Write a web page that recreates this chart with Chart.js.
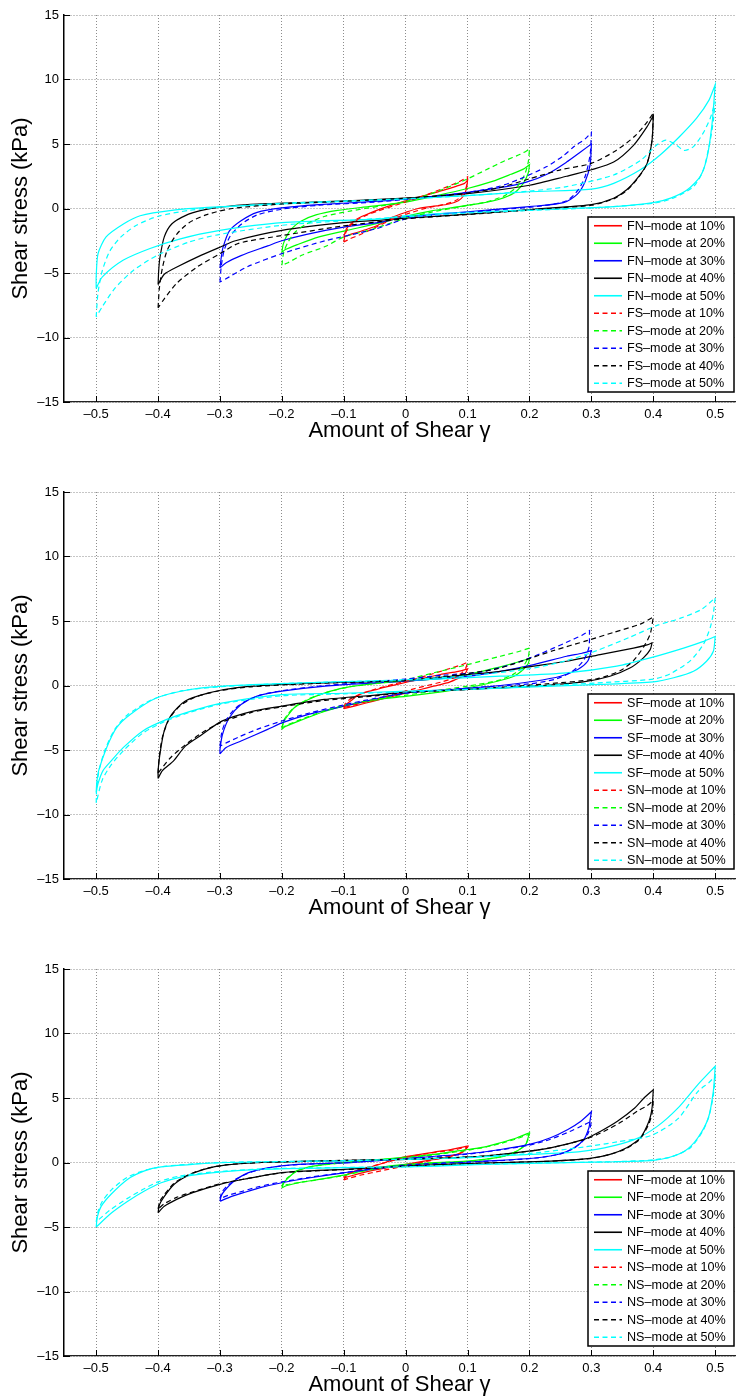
<!DOCTYPE html>
<html>
<head>
<meta charset="utf-8">
<script src="https://cdn.jsdelivr.net/npm/chart.js@4"></script>
<style>
    body { margin: 0; background: #fff; }
    .panel { position: absolute; left: 0; width: 737px; height: 443px; }
</style>
</head>
<body>
<div class="panel" style="top:0px"><canvas id="chart-1" width="737" height="443"></canvas></div>
<div class="panel" style="top:477px"><canvas id="chart-2" width="737" height="443"></canvas></div>
<div class="panel" style="top:954px"><canvas id="chart-3" width="737" height="443"></canvas></div>
<script>
const xTicks = [-0.5, -0.4, -0.3, -0.2, -0.1, 0, 0.1, 0.2, 0.3, 0.4, 0.5];
const yTicks = [-15, -10, -5, 0, 5, 10, 15];
const strainLevels = ['10%', '20%', '30%', '40%', '50%'];
const levelColors = ['#ff0000', '#00ff00', '#0000ff', '#000000', '#00ffff'];

// each loop: upper branch (-A -> +A) then lower branch (+A -> -A), [gamma, kPa]
// panel 1: FN (solid) / FS (dashed)
const FN10 = [[-0.1,-2.2],[-0.096,-1.6],[-0.09,-1.25],[-0.08,-0.85],[-0.065,-0.5],[-0.05,-0.2],[-0.03,0.15],[0,0.6],[0.03,1.0],[0.06,1.4],[0.08,1.7],[0.095,1.95],[0.1,2.2],
    [0.1,2.2],[0.098,1.5],[0.093,0.95],[0.085,0.6],[0.07,0.35],[0.05,0.2],[0.02,0.0],[0,-0.3],[-0.02,-0.65],[-0.045,-1.3],[-0.065,-1.65],[-0.085,-1.95],[-0.1,-2.2]];
const FS10 = [[-0.1,-2.6],[-0.097,-1.9],[-0.09,-1.35],[-0.08,-0.95],[-0.065,-0.55],[-0.045,-0.2],[-0.02,0.2],[0,0.5],[0.03,1.0],[0.06,1.55],[0.085,2.05],[0.1,2.45],
    [0.1,2.45],[0.098,1.7],[0.092,1.05],[0.08,0.6],[0.06,0.3],[0.035,0.05],[0.01,-0.3],[-0.02,-0.8],[-0.05,-1.5],[-0.075,-2.05],[-0.09,-2.35],[-0.1,-2.6]];
const FN20 = [[-0.2,-3.4],[-0.198,-2.8],[-0.193,-2.2],[-0.185,-1.6],[-0.17,-1.0],[-0.145,-0.5],[-0.11,-0.15],[-0.06,0.15],[0,0.5],[0.05,1.0],[0.1,1.55],[0.14,2.1],[0.17,2.65],[0.19,3.05],[0.2,3.4],
    [0.2,3.4],[0.198,2.75],[0.19,1.95],[0.175,1.2],[0.15,0.7],[0.12,0.4],[0.08,0.1],[0.04,-0.2],[0,-0.6],[-0.04,-1.1],[-0.1,-1.75],[-0.14,-2.2],[-0.175,-2.8],[-0.195,-3.2],[-0.2,-3.4]];
const FS20 = [[-0.2,-4.4],[-0.197,-3.4],[-0.19,-2.6],[-0.178,-1.8],[-0.16,-1.2],[-0.13,-0.6],[-0.09,-0.2],[-0.04,0.2],[0,0.55],[0.05,1.3],[0.1,2.3],[0.13,3.0],[0.16,3.7],[0.185,4.2],[0.2,4.6],
    [0.2,4.6],[0.198,3.6],[0.192,2.6],[0.18,1.7],[0.16,1.0],[0.13,0.5],[0.09,0.15],[0.04,-0.3],[0,-0.75],[-0.06,-1.7],[-0.1,-2.2],[-0.13,-2.95],[-0.167,-3.6],[-0.19,-4.2],[-0.2,-4.4]];
const FN30 = [[-0.3,-4.6],[-0.298,-3.8],[-0.295,-3.0],[-0.285,-1.75],[-0.266,-0.95],[-0.24,-0.3],[-0.2,0.05],[-0.14,0.3],[-0.05,0.55],[0,0.75],[0.05,0.95],[0.1,1.25],[0.15,1.6],[0.195,2.05],[0.23,2.7],[0.26,3.6],[0.283,4.4],[0.3,5.0],
    [0.3,5.0],[0.298,3.4],[0.29,2.1],[0.277,1.1],[0.255,0.45],[0.2,0.15],[0.1,-0.25],[0,-0.65],[-0.04,-1.05],[-0.1,-1.45],[-0.16,-2.0],[-0.2,-2.5],[-0.223,-2.9],[-0.266,-3.65],[-0.29,-4.2],[-0.3,-4.6]];
const FS30 = [[-0.3,-5.7],[-0.298,-4.5],[-0.293,-3.2],[-0.283,-2.1],[-0.265,-1.2],[-0.24,-0.5],[-0.2,-0.05],[-0.14,0.25],[-0.05,0.5],[0,0.7],[0.1,1.25],[0.15,1.7],[0.185,2.3],[0.228,3.25],[0.255,4.1],[0.272,4.8],[0.29,5.4],[0.3,5.9],
    [0.3,5.9],[0.298,4.2],[0.29,2.5],[0.278,1.4],[0.26,0.6],[0.22,0.2],[0.15,-0.1],[0.05,-0.5],[0,-0.8],[-0.05,-1.6],[-0.13,-2.5],[-0.2,-3.5],[-0.255,-4.5],[-0.285,-5.3],[-0.3,-5.7]];
const FN40 = [[-0.4,-5.9],[-0.399,-4.8],[-0.397,-3.8],[-0.39,-2.2],[-0.378,-1.2],[-0.356,-0.55],[-0.33,-0.15],[-0.3,0.1],[-0.25,0.33],[-0.15,0.5],[0,0.8],[0.1,1.15],[0.2,1.8],[0.26,2.5],[0.3,3.0],[0.336,3.6],[0.368,4.9],[0.39,6.35],[0.4,7.2],
    [0.4,7.2],[0.398,5.3],[0.39,3.5],[0.376,2.45],[0.357,1.45],[0.336,0.8],[0.3,0.3],[0.23,0.03],[0.12,-0.38],[0,-0.75],[-0.04,-0.9],[-0.1,-1.1],[-0.2,-1.7],[-0.275,-2.5],[-0.3,-3.0],[-0.336,-3.75],[-0.368,-4.5],[-0.39,-5.1],[-0.4,-5.9]];
const FS40 = [[-0.4,-7.7],[-0.398,-6.2],[-0.393,-4.6],[-0.385,-3.2],[-0.37,-2.0],[-0.35,-1.1],[-0.32,-0.45],[-0.28,0.0],[-0.2,0.35],[-0.1,0.55],[0,0.8],[0.1,1.2],[0.15,1.6],[0.2,2.3],[0.25,3.0],[0.3,3.5],[0.34,4.5],[0.37,5.6],[0.39,6.7],[0.4,7.4],
    [0.4,7.4],[0.398,5.3],[0.39,3.5],[0.376,2.4],[0.357,1.4],[0.336,0.75],[0.3,0.25],[0.23,0.0],[0.12,-0.4],[0,-0.8],[-0.1,-1.35],[-0.2,-2.1],[-0.27,-2.7],[-0.3,-3.5],[-0.336,-4.5],[-0.37,-5.8],[-0.39,-7.0],[-0.4,-7.7]];
const FN50 = [[-0.5,-6.2],[-0.5,-5.3],[-0.497,-3.5],[-0.484,-2.2],[-0.456,-1.2],[-0.429,-0.56],[-0.375,-0.13],[-0.32,0.08],[-0.2,0.35],[-0.1,0.55],[0,0.75],[0.1,1.0],[0.2,1.3],[0.3,1.5],[0.336,1.95],[0.379,3.0],[0.411,4.15],[0.443,5.6],[0.47,7.0],[0.49,8.4],[0.5,9.6],
    [0.5,9.6],[0.495,6.6],[0.487,4.0],[0.476,2.5],[0.455,1.45],[0.428,0.8],[0.4,0.45],[0.336,0.14],[0.228,-0.07],[0.12,-0.25],[0,-0.55],[-0.04,-0.8],[-0.2,-1.1],[-0.3,-1.7],[-0.364,-2.35],[-0.413,-3.1],[-0.456,-4.0],[-0.49,-5.3],[-0.5,-6.2]];
const FS50 = [[-0.5,-8.4],[-0.497,-6.5],[-0.49,-4.8],[-0.478,-3.3],[-0.46,-2.2],[-0.435,-1.3],[-0.4,-0.6],[-0.35,-0.15],[-0.3,0.1],[-0.2,0.4],[0,0.75],[0.1,1.0],[0.2,1.35],[0.26,1.7],[0.336,2.6],[0.38,3.75],[0.405,4.9],[0.42,5.3],[0.435,5.0],[0.45,4.5],[0.465,4.8],[0.48,5.8],[0.492,7.0],[0.5,8.3],
    [0.5,8.3],[0.497,6.8],[0.492,5.3],[0.481,3.0],[0.465,1.7],[0.432,0.8],[0.4,0.4],[0.3,0.05],[0.2,-0.15],[0.1,-0.35],[0,-0.65],[-0.1,-0.95],[-0.2,-1.3],[-0.3,-2.0],[-0.35,-2.6],[-0.4,-3.6],[-0.44,-4.8],[-0.47,-6.2],[-0.49,-7.6],[-0.5,-8.4]];

// panel 2: SF (solid) / SN (dashed)
const SF10 = [[-0.1,-1.8],[-0.097,-1.5],[-0.089,-1.2],[-0.078,-0.8],[-0.068,-0.57],[-0.05,-0.35],[-0.035,-0.15],[0.008,0.33],[0.056,0.85],[0.085,1.1],[0.1,1.29],
    [0.1,1.29],[0.097,1.0],[0.092,0.72],[0.08,0.45],[0.067,0.2],[0.045,-0.05],[0.024,-0.31],[0,-0.6],[-0.03,-0.95],[-0.055,-1.25],[-0.073,-1.47],[-0.09,-1.68],[-0.1,-1.8]];
const SN10 = [[-0.1,-1.7],[-0.097,-1.35],[-0.088,-1.0],[-0.075,-0.7],[-0.05,-0.3],[-0.02,0.1],[0.01,0.45],[0.04,0.85],[0.07,1.3],[0.09,1.6],[0.1,1.8],
    [0.1,1.8],[0.097,1.35],[0.09,0.95],[0.078,0.6],[0.06,0.3],[0.035,0.0],[0.01,-0.3],[-0.02,-0.7],[-0.05,-1.1],[-0.075,-1.4],[-0.09,-1.6],[-0.1,-1.7]];
const SF20 = [[-0.2,-3.4],[-0.197,-2.8],[-0.193,-2.5],[-0.18,-1.73],[-0.157,-1.08],[-0.13,-0.57],[-0.1,-0.18],[-0.04,0.2],[0,0.35],[0.045,0.5],[0.1,0.85],[0.153,1.45],[0.18,1.8],[0.2,2.1],
    [0.2,2.1],[0.198,1.7],[0.19,1.24],[0.175,0.72],[0.148,0.33],[0.1,-0.18],[0.045,-0.57],[0,-0.85],[-0.04,-1.05],[-0.1,-1.6],[-0.13,-2.0],[-0.173,-2.76],[-0.195,-3.2],[-0.2,-3.4]];
const SN20 = [[-0.2,-3.3],[-0.197,-2.7],[-0.19,-2.2],[-0.178,-1.6],[-0.155,-1.0],[-0.125,-0.5],[-0.09,-0.1],[-0.04,0.2],[0,0.45],[0.045,0.98],[0.1,1.62],[0.153,2.27],[0.18,2.6],[0.2,2.9],
    [0.2,2.9],[0.198,2.2],[0.19,1.5],[0.175,0.9],[0.15,0.4],[0.1,-0.05],[0.05,-0.4],[0,-0.75],[-0.04,-1.0],[-0.1,-1.55],[-0.13,-1.95],[-0.17,-2.65],[-0.193,-3.1],[-0.2,-3.3]];
const SF30 = [[-0.3,-5.3],[-0.3,-4.95],[-0.296,-3.8],[-0.285,-2.5],[-0.266,-1.47],[-0.24,-0.82],[-0.2,-0.44],[-0.13,-0.05],[-0.05,0.2],[0,0.33],[0.1,0.72],[0.153,1.1],[0.207,1.62],[0.26,2.27],[0.285,2.5],[0.3,2.7],
    [0.3,2.7],[0.294,1.88],[0.278,1.24],[0.25,0.72],[0.207,0.33],[0.153,0.0],[0.073,-0.31],[0,-0.57],[-0.04,-0.95],[-0.1,-1.6],[-0.157,-2.24],[-0.2,-2.9],[-0.223,-3.4],[-0.266,-4.3],[-0.29,-4.8],[-0.3,-5.3]];
const SN30 = [[-0.3,-4.7],[-0.297,-3.6],[-0.29,-2.7],[-0.278,-1.9],[-0.26,-1.25],[-0.235,-0.75],[-0.2,-0.4],[-0.13,0.0],[-0.05,0.3],[0,0.5],[0.06,0.8],[0.12,1.03],[0.174,1.68],[0.217,2.45],[0.26,3.35],[0.285,3.9],[0.297,4.25],
    [0.297,4.25],[0.296,2.96],[0.287,1.93],[0.271,1.16],[0.244,0.52],[0.2,0.13],[0.12,-0.13],[0.05,-0.4],[0,-0.6],[-0.05,-1.0],[-0.1,-1.5],[-0.157,-2.15],[-0.2,-2.75],[-0.24,-3.4],[-0.27,-4.0],[-0.29,-4.45],[-0.3,-4.7]];
const SF40 = [[-0.4,-7.2],[-0.4,-6.6],[-0.397,-5.3],[-0.39,-3.5],[-0.378,-2.24],[-0.356,-1.2],[-0.318,-0.57],[-0.275,-0.18],[-0.2,0.08],[-0.1,0.25],[0,0.39],[0.1,0.85],[0.153,1.1],[0.207,1.5],[0.26,1.88],[0.314,2.4],[0.368,2.9],[0.39,3.15],[0.398,3.3],
    [0.398,3.3],[0.395,2.78],[0.384,2.14],[0.363,1.37],[0.33,0.72],[0.287,0.28],[0.207,-0.05],[0.1,-0.31],[0,-0.49],[-0.04,-0.7],[-0.131,-1.08],[-0.2,-1.6],[-0.248,-2.0],[-0.297,-2.76],[-0.329,-3.8],[-0.356,-4.7],[-0.375,-5.85],[-0.393,-6.6],[-0.4,-7.2]];
const SN40 = [[-0.4,-6.8],[-0.398,-5.5],[-0.393,-4.0],[-0.382,-2.6],[-0.365,-1.6],[-0.34,-0.9],[-0.3,-0.4],[-0.25,-0.1],[-0.15,0.15],[-0.05,0.3],[0,0.4],[0.08,0.8],[0.147,1.29],[0.19,1.93],[0.239,2.71],[0.293,3.48],[0.336,4.12],[0.379,4.76],[0.4,5.3],
    [0.4,5.3],[0.395,3.99],[0.384,2.96],[0.368,1.93],[0.347,1.16],[0.309,0.52],[0.228,0.13],[0.1,-0.3],[0,-0.55],[-0.05,-0.8],[-0.13,-1.15],[-0.2,-1.65],[-0.25,-2.1],[-0.3,-2.9],[-0.33,-3.7],[-0.356,-4.6],[-0.38,-5.6],[-0.4,-6.8]];
const SF50 = [[-0.5,-8.3],[-0.499,-7.5],[-0.496,-6.6],[-0.483,-4.8],[-0.467,-3.27],[-0.445,-2.24],[-0.402,-0.95],[-0.348,-0.31],[-0.295,-0.05],[-0.2,0.15],[-0.1,0.3],[0,0.39],[0.153,0.72],[0.26,0.98],[0.341,1.5],[0.395,2.14],[0.449,2.9],[0.48,3.4],[0.5,3.8],
    [0.5,3.8],[0.497,2.65],[0.486,1.88],[0.465,1.1],[0.433,0.6],[0.4,0.28],[0.314,0.08],[0.207,-0.1],[0.1,-0.31],[0,-0.44],[-0.1,-0.6],[-0.2,-0.7],[-0.295,-1.34],[-0.348,-2.0],[-0.386,-2.63],[-0.424,-3.5],[-0.456,-4.8],[-0.475,-5.8],[-0.489,-6.6],[-0.497,-7.6],[-0.5,-8.3]];
const SN50 = [[-0.5,-9.1],[-0.499,-7.8],[-0.495,-6.5],[-0.485,-4.9],[-0.47,-3.4],[-0.45,-2.3],[-0.41,-1.1],[-0.36,-0.4],[-0.3,-0.1],[-0.2,0.15],[-0.1,0.3],[0,0.45],[0.1,0.75],[0.2,1.3],[0.26,1.93],[0.309,2.71],[0.362,3.74],[0.405,4.64],[0.443,5.2],[0.478,5.9],[0.5,6.8],
    [0.5,6.8],[0.497,5.6],[0.492,4.5],[0.481,3.2],[0.46,1.93],[0.427,0.9],[0.4,0.5],[0.309,0.2],[0.2,-0.05],[0.1,-0.3],[0,-0.5],[-0.1,-0.65],[-0.2,-0.8],[-0.295,-1.4],[-0.35,-2.1],[-0.39,-2.8],[-0.425,-3.7],[-0.455,-5.0],[-0.475,-6.1],[-0.49,-7.3],[-0.5,-9.1]];

// panel 3: NF (solid) / NS (dashed)
const NF10 = [[-0.1,-1.2],[-0.097,-1.0],[-0.089,-0.8],[-0.073,-0.53],[-0.05,-0.25],[-0.02,0.2],[0,0.45],[0.046,0.81],[0.073,1.01],[0.1,1.27],
    [0.1,1.27],[0.096,1.0],[0.089,0.76],[0.073,0.5],[0.046,0.24],[0,-0.15],[-0.04,-0.5],[-0.07,-0.8],[-0.089,-1.05],[-0.1,-1.2]];
const NS10 = [[-0.1,-1.35],[-0.096,-1.05],[-0.088,-0.8],[-0.07,-0.5],[-0.04,-0.1],[0,0.4],[0.05,0.8],[0.08,1.0],[0.1,1.2],
    [0.1,1.2],[0.095,0.9],[0.085,0.65],[0.065,0.4],[0.04,0.15],[0,-0.25],[-0.04,-0.65],[-0.07,-0.95],[-0.09,-1.2],[-0.1,-1.35]];
const NF20 = [[-0.2,-1.96],[-0.197,-1.6],[-0.192,-1.3],[-0.176,-0.65],[-0.149,-0.28],[-0.1,0.0],[-0.05,0.2],[0,0.42],[0.046,0.63],[0.1,1.01],[0.126,1.19],[0.153,1.53],[0.18,1.92],[0.2,2.31],
    [0.2,2.31],[0.197,1.8],[0.194,1.4],[0.18,0.89],[0.159,0.5],[0.126,0.24],[0.1,0.11],[0,-0.15],[-0.05,-0.45],[-0.1,-0.98],[-0.14,-1.31],[-0.173,-1.57],[-0.193,-1.8],[-0.2,-1.96]];
const NS20 = [[-0.2,-1.85],[-0.197,-1.5],[-0.19,-1.15],[-0.175,-0.65],[-0.15,-0.3],[-0.1,-0.02],[-0.05,0.18],[0,0.38],[0.05,0.62],[0.1,0.95],[0.13,1.2],[0.155,1.5],[0.18,1.85],[0.2,2.2],
    [0.2,2.2],[0.197,1.7],[0.192,1.3],[0.178,0.85],[0.157,0.48],[0.126,0.22],[0.1,0.1],[0,-0.18],[-0.05,-0.5],[-0.1,-1.0],[-0.14,-1.32],[-0.172,-1.55],[-0.192,-1.72],[-0.2,-1.85]];
const NF30 = [[-0.3,-3.0],[-0.298,-2.6],[-0.293,-2.21],[-0.277,-1.44],[-0.255,-0.8],[-0.223,-0.41],[-0.18,-0.16],[-0.1,-0.03],[0,0.32],[0.1,0.68],[0.153,1.01],[0.2,1.4],[0.234,1.92],[0.262,2.56],[0.283,3.2],[0.3,3.93],
    [0.3,3.93],[0.298,3.3],[0.296,2.69],[0.288,1.79],[0.272,1.14],[0.25,0.68],[0.213,0.37],[0.153,0.17],[0.1,0.04],[0,-0.2],[-0.1,-0.8],[-0.154,-1.18],[-0.2,-1.57],[-0.235,-1.95],[-0.262,-2.34],[-0.285,-2.7],[-0.3,-3.0]];
const NS30 = [[-0.3,-2.8],[-0.297,-2.3],[-0.29,-1.9],[-0.275,-1.3],[-0.25,-0.75],[-0.22,-0.4],[-0.18,-0.18],[-0.1,-0.02],[0,0.3],[0.1,0.65],[0.153,0.98],[0.2,1.35],[0.234,1.8],[0.265,2.4],[0.285,2.85],[0.3,3.2],
    [0.3,3.2],[0.298,2.7],[0.294,2.2],[0.285,1.6],[0.27,1.05],[0.248,0.65],[0.21,0.35],[0.153,0.15],[0.1,0.03],[0,-0.22],[-0.1,-0.78],[-0.155,-1.15],[-0.2,-1.5],[-0.24,-1.9],[-0.265,-2.25],[-0.287,-2.55],[-0.3,-2.8]];
const NF40 = [[-0.4,-3.9],[-0.398,-3.3],[-0.391,-2.7],[-0.374,-1.69],[-0.353,-1.04],[-0.326,-0.53],[-0.289,-0.19],[-0.233,0.0],[-0.1,0.15],[0,0.24],[0.126,0.5],[0.2,0.89],[0.234,1.14],[0.288,1.79],[0.315,2.43],[0.342,3.2],[0.37,4.23],[0.385,5.0],[0.4,5.65],
    [0.4,5.65],[0.398,4.23],[0.393,3.2],[0.379,1.92],[0.357,1.14],[0.33,0.63],[0.298,0.32],[0.234,0.11],[0.126,-0.04],[0,-0.27],[-0.1,-0.53],[-0.2,-0.78],[-0.262,-1.3],[-0.3,-1.69],[-0.344,-2.34],[-0.37,-2.86],[-0.39,-3.4],[-0.4,-3.9]];
const NS40 = [[-0.4,-3.6],[-0.397,-3.0],[-0.39,-2.5],[-0.374,-1.6],[-0.352,-0.98],[-0.325,-0.5],[-0.29,-0.18],[-0.233,0.0],[-0.1,0.17],[0,0.26],[0.126,0.5],[0.2,0.88],[0.24,1.2],[0.29,1.8],[0.32,2.4],[0.35,3.2],[0.375,4.0],[0.39,4.4],[0.4,4.8],
    [0.4,4.8],[0.398,3.8],[0.392,2.9],[0.378,1.8],[0.355,1.05],[0.328,0.6],[0.296,0.3],[0.234,0.1],[0.126,-0.05],[0,-0.28],[-0.1,-0.55],[-0.2,-0.8],[-0.26,-1.28],[-0.3,-1.65],[-0.342,-2.25],[-0.37,-2.7],[-0.39,-3.2],[-0.4,-3.6]];
const NF50 = [[-0.5,-5.0],[-0.498,-4.2],[-0.492,-3.4],[-0.476,-2.46],[-0.449,-1.29],[-0.422,-0.65],[-0.395,-0.34],[-0.341,-0.13],[-0.287,0.0],[-0.1,0.12],[0,0.24],[0.1,0.37],[0.2,0.63],[0.262,0.76],[0.321,1.14],[0.37,1.79],[0.407,2.82],[0.44,4.23],[0.472,6.04],[0.5,7.46],
    [0.5,7.46],[0.497,5.53],[0.489,3.47],[0.472,1.92],[0.451,0.89],[0.424,0.37],[0.4,0.17],[0.342,0.06],[0.262,-0.01],[0.18,-0.09],[0.1,-0.19],[0,-0.35],[-0.1,-0.4],[-0.233,-0.53],[-0.314,-0.8],[-0.363,-1.13],[-0.395,-1.57],[-0.422,-2.21],[-0.449,-3.0],[-0.475,-3.9],[-0.5,-5.0]];
const NS50 = [[-0.5,-4.6],[-0.497,-3.8],[-0.49,-3.0],[-0.475,-2.1],[-0.45,-1.15],[-0.42,-0.58],[-0.39,-0.3],[-0.34,-0.1],[-0.287,0.02],[-0.1,0.14],[0,0.26],[0.1,0.4],[0.2,0.7],[0.288,1.2],[0.342,1.6],[0.397,2.1],[0.44,3.4],[0.472,5.5],[0.49,6.2],[0.5,6.7],
    [0.5,6.7],[0.497,5.2],[0.49,3.6],[0.48,2.44],[0.46,1.15],[0.43,0.45],[0.4,0.2],[0.342,0.07],[0.262,0.0],[0.18,-0.08],[0.1,-0.17],[0,-0.33],[-0.1,-0.38],[-0.233,-0.5],[-0.314,-0.75],[-0.365,-1.05],[-0.4,-1.5],[-0.425,-2.1],[-0.45,-2.8],[-0.478,-3.7],[-0.5,-4.6]];

const FONT = '"Liberation Sans", Arial, Helvetica, sans-serif';

function tickText(v, digits) {
    if (v === 0) return '0';
    return (v < 0 ? '\u2013' : '') + Math.abs(v).toFixed(digits);
}

// legend box drawn inside the plot, lower right, like matlab
const boxLegend = {
    id: 'boxLegend',
    afterDatasetsDraw(chart) {
        const { ctx, chartArea: a } = chart;
        const sets = chart.data.datasets;
        const rowH = 17.5;
        const w = 146;
        const right = a.right - 1;
        const bottom = a.bottom - 10;
        const top = bottom - rowH * sets.length;
        const left = right - w;
        ctx.save();
        ctx.fillStyle = '#fff';
        ctx.fillRect(left, top, w, bottom - top);
        ctx.lineWidth = 1.5;
        ctx.strokeStyle = '#000';
        ctx.strokeRect(left, top, w, bottom - top);
        ctx.font = '12.6px ' + FONT;
        ctx.textBaseline = 'middle';
        sets.forEach((ds, i) => {
            const y = top + rowH * (i + 0.5);
            ctx.strokeStyle = ds.borderColor;
            ctx.lineWidth = 1.6;
            ctx.setLineDash(ds.borderDash);
            ctx.beginPath();
            ctx.moveTo(left + 6, y);
            ctx.lineTo(left + 34, y);
            ctx.stroke();
            ctx.setLineDash([]);
            ctx.fillStyle = '#000';
            ctx.fillText(ds.label, left + 39, y + 0.5);
        });
        ctx.restore();
    }
};

// matlab puts the tick marks inside the axes
const innerTicks = {
    id: 'innerTicks',
    afterDraw(chart) {
        const { ctx, chartArea: a, scales } = chart;
        ctx.save();
        ctx.strokeStyle = '#000';
        ctx.lineWidth = 1;
        ctx.beginPath();
        scales.x.ticks.forEach(t => {
            const px = Math.round(scales.x.getPixelForValue(t.value)) + 0.5;
            ctx.moveTo(px, a.bottom);
            ctx.lineTo(px, a.bottom - 6);
        });
        scales.y.ticks.forEach(t => {
            const py = Math.round(scales.y.getPixelForValue(t.value)) + 0.5;
            ctx.moveTo(a.left, py);
            ctx.lineTo(a.left + 6, py);
        });
        ctx.stroke();
        ctx.restore();
    }
};

function makeChart(canvasId, solidName, dashedName, solidLoops, dashedLoops) {
    const datasets = [];
    const addSet = (name, loops, dash) => {
        loops.forEach((loop, i) => {
            datasets.push({
                label: name + '\u2013mode at ' + strainLevels[i],
                data: loop.map(p => ({ x: p[0], y: p[1] })),
                borderColor: levelColors[i],
                borderWidth: 1.2,
                borderDash: dash,
                pointRadius: 0,
                showLine: true,
                tension: 0.25,
                fill: false
            });
        });
    };
    addSet(solidName, solidLoops, []);
    addSet(dashedName, dashedLoops, [5, 3.5]);
    // later series on top, as in the original plot
    datasets.forEach((ds, i) => { ds.order = datasets.length - i; });

    new Chart(document.getElementById(canvasId).getContext('2d'), {
        type: 'scatter',
        data: { datasets },
        options: {
            responsive: false,
            animation: false,
            layout: { padding: { top: 15, right: 2, left: 0, bottom: 0 } },
            plugins: { legend: { display: false }, tooltip: { enabled: false } },
            scales: {
                x: {
                    type: 'linear',
                    min: -0.552,
                    max: 0.532,
                    afterBuildTicks: s => { s.ticks = xTicks.map(v => ({ value: v })); },
                    afterFit: s => { s.height = 41; },
                    grid: { color: '#8c8c8c', lineWidth: 1, drawTicks: false },
                    border: { color: '#222', width: 1.2, dash: [1, 2] },
                    ticks: {
                        color: '#000',
                        padding: 5,
                        maxRotation: 0,
                        font: { family: FONT, size: 13 },
                        callback: v => tickText(v, 1)
                    },
                    title: {
                        display: true,
                        text: 'Amount of Shear \u03b3',
                        color: '#000',
                        padding: { top: 0, bottom: -1 },
                        font: { family: FONT, size: 22 }
                    }
                },
                y: {
                    type: 'linear',
                    min: -15,
                    max: 15,
                    afterBuildTicks: s => { s.ticks = yTicks.map(v => ({ value: v })); },
                    afterFit: s => { s.width = 64; },
                    grid: { color: '#8c8c8c', lineWidth: 1, drawTicks: false },
                    border: { color: '#000', width: 1.5, dash: [1, 2] },
                    ticks: {
                        color: '#000',
                        padding: 5,
                        font: { family: FONT, size: 13 },
                        callback: v => tickText(v, 0)
                    },
                    title: {
                        display: true,
                        text: 'Shear stress (kPa)',
                        color: '#000',
                        padding: { top: 8, bottom: 0 },
                        font: { family: FONT, size: 22 }
                    }
                }
            }
        },
        plugins: [boxLegend, innerTicks]
    });
}

makeChart('chart-1', 'FN', 'FS', [FN10, FN20, FN30, FN40, FN50], [FS10, FS20, FS30, FS40, FS50]);
makeChart('chart-2', 'SF', 'SN', [SF10, SF20, SF30, SF40, SF50], [SN10, SN20, SN30, SN40, SN50]);
makeChart('chart-3', 'NF', 'NS', [NF10, NF20, NF30, NF40, NF50], [NS10, NS20, NS30, NS40, NS50]);
</script>
</body>
</html>
